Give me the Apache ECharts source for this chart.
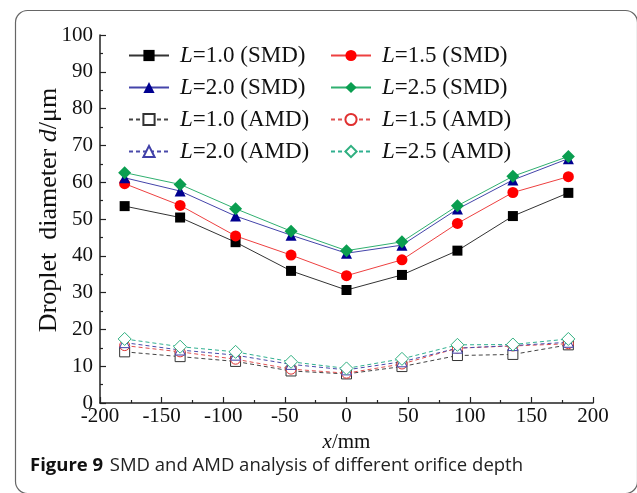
<!DOCTYPE html>
<html><head><meta charset="utf-8">
<script src="https://cdn.jsdelivr.net/npm/echarts@6/dist/echarts.min.js"></script>
<style>html,body{margin:0;padding:0;background:#fff}#c{width:637px;height:493px}</style>
</head><body><div id="c"></div>
<script>
const xValues = [-180, -135, -90, -45, 0, 45, 90, 135, 180];
const smd10 = [53.5, 50.4, 43.7, 35.9, 30.7, 34.8, 41.4, 50.8, 57.1];
const smd15 = [59.6, 53.7, 45.4, 40.2, 34.6, 38.9, 48.8, 57.2, 61.5];
const smd20 = [61.2, 57.6, 50.8, 45.6, 40.7, 42.9, 52.7, 60.6, 66.4];
const smd25 = [62.6, 59.4, 52.8, 46.7, 41.4, 43.8, 53.6, 61.6, 67.0];
const amd10 = [13.9, 12.6, 11.3, 8.7, 7.9, 9.9, 12.9, 13.2, 15.8];
const amd15 = [15.6, 13.9, 11.9, 9.2, 8.1, 10.6, 14.9, 15.5, 16.1];
const amd20 = [16.4, 14.4, 13.0, 10.5, 9.0, 11.2, 14.9, 15.6, 16.5];
const amd25 = [17.4, 15.3, 13.9, 11.2, 9.4, 12.0, 15.8, 15.9, 17.4];
const xTicks = [-200, -150, -100, -50, 0, 50, 100, 150, 200];
const yTicks = [0, 10, 20, 30, 40, 50, 60, 70, 80, 90, 100];

const serif = '"Liberation Serif","Times New Roman",serif';
const pts = arr => xValues.map((x, i) => [x, arr[i]]);

function mk(name, data, symbol, size, mColor, lColor, dashed, hollow) {
  return {
    name, type: 'line', data: pts(data), symbol, symbolSize: size,
    lineStyle: { color: lColor, width: 1, type: dashed ? [4, 3] : 'solid' },
    itemStyle: hollow ? { color: '#fff', borderColor: mColor, borderWidth: 1 } : { color: mColor, borderColor: mColor, borderWidth: 0 },
    z: hollow ? 2 : 3
  };
}

const series = [
  mk('L=1.0 (AMD)', amd10, 'rect', 10, '#333', '#444', true, true),
  mk('L=1.5 (AMD)', amd15, 'circle', 10, '#e03030', '#e05050', true, true),
  mk('L=2.0 (AMD)', amd20, 'triangle', 10, '#4040a8', '#4a4aaa', true, true),
  mk('L=2.5 (AMD)', amd25, 'diamond', 13, '#30b080', '#30b090', true, true),
  mk('L=1.0 (SMD)', smd10, 'rect', 10, '#000', '#333', false, false),
  mk('L=1.5 (SMD)', smd15, 'circle', 11, '#ff0000', '#ee4040', false, false),
  mk('L=2.0 (SMD)', smd20, 'triangle', 11, '#000090', '#4444aa', false, false),
  mk('L=2.5 (SMD)', smd25, 'diamond', 13, '#0a9e50', '#30b070', false, false)
];

const LF = 23;
const legendText = {
  fontFamily: serif, fontSize: LF, color: '#111', lineHeight: 22, padding: [0, 0, 0, 6],
  rich: {
    i: { fontFamily: serif, fontSize: LF, fontStyle: 'italic', color: '#111', lineHeight: 22 },
    n: { fontFamily: serif, fontSize: LF, color: '#111', lineHeight: 22 }
  }
};
const legendFmt = n => '{i|L}{n|' + n.slice(1) + '}';
const legendBase = {
  orient: 'vertical', top: 39, itemWidth: 40, itemHeight: 14, itemGap: 9,
  textStyle: legendText, formatter: legendFmt, selectedMode: false
};

const chart = echarts.init(document.getElementById('c'));
chart.setOption({
  animation: false,
  backgroundColor: '#fff',
  grid: { left: 100, right: 44, top: 35, bottom: 90, containLabel: false },
  legend: [
    Object.assign({}, legendBase, { left: 123, data: ['L=1.0 (SMD)', 'L=2.0 (SMD)', 'L=1.0 (AMD)', 'L=2.0 (AMD)'] }),
    Object.assign({}, legendBase, { left: 325, data: ['L=1.5 (SMD)', 'L=2.5 (SMD)', 'L=1.5 (AMD)', 'L=2.5 (AMD)'] })
  ],
  xAxis: {
    type: 'value', min: xTicks[0], max: xTicks[xTicks.length - 1], interval: 50,
    name: '{i|x}/mm', nameLocation: 'middle', nameGap: 22,
    nameTextStyle: { fontFamily: serif, fontSize: 21, color: '#111', rich: { i: { fontFamily: serif, fontSize: 21, fontStyle: 'italic', color: '#111' } } },
    axisLine: { onZero: false, lineStyle: { color: '#222', width: 1.5 } },
    axisTick: { inside: true, length: 6, lineStyle: { color: '#222', width: 1.2 } },
    minorTick: { show: true, splitNumber: 2, length: 3, lineStyle: { color: '#222', width: 1.2 } },
    axisLabel: { fontFamily: serif, fontSize: 21, color: '#111', margin: 3 },
    splitLine: { show: false }
  },
  yAxis: {
    type: 'value', min: yTicks[0], max: yTicks[yTicks.length - 1], interval: 10,
    name: 'Droplet  diameter {i|d}/μm', nameLocation: 'middle', nameGap: 38, nameMoveOverlap: false,
    nameTextStyle: { fontFamily: serif, fontSize: 26, color: '#111', padding: [0, 0, 0, 18], rich: { i: { fontFamily: serif, fontSize: 26, fontStyle: 'italic', color: '#111' } } },
    axisLine: { show: true, onZero: false, lineStyle: { color: '#222', width: 1.5 } },
    axisTick: { show: true, inside: true, length: 6, lineStyle: { color: '#222', width: 1.2 } },
    minorTick: { show: true, splitNumber: 2, length: 3, lineStyle: { color: '#222', width: 1.2 } },
    axisLabel: { fontFamily: serif, fontSize: 21, color: '#111', margin: 7 },
    splitLine: { show: false }
  },
  graphic: [
    { type: 'rect', left: 13, top: 8, z: -10, shape: { width: 622, height: 483, r: 12 },
      style: { fill: 'none', stroke: '#666', lineWidth: 1.2 } },
    { type: 'text', left: 30, top: 456, style: {
        text: '{b|Figure 9}  {r|SMD and AMD analysis of different orifice depth}',
        rich: {
          b: { fontFamily: '"Open Sans","Noto Sans",sans-serif', fontWeight: 'bold', fontSize: 18.5, fill: '#111' },
          r: { fontFamily: '"Open Sans","Noto Sans",sans-serif', fontSize: 18.5, fill: '#222' }
        } } }
  ],
  series
});
</script></body></html>
